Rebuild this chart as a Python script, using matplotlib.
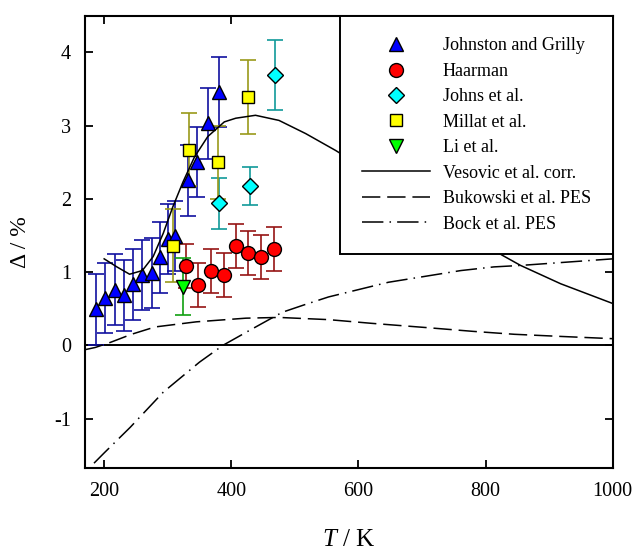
import matplotlib
matplotlib.use("Agg")
import matplotlib.pyplot as plt

plt.rcParams['font.family'] = ['Liberation Serif', 'DejaVu Serif']
plt.rcParams['mathtext.fontset'] = 'custom'
plt.rcParams['mathtext.rm'] = 'Liberation Serif'
plt.rcParams['mathtext.it'] = 'Liberation Serif:italic'
plt.rcParams['axes.unicode_minus'] = False

# experimental points: T / K, deviation / %, error bar half width / %
jg_T = [187, 202, 217, 231, 246, 260, 275, 288, 300, 311, 332, 346, 363, 380]
jg_D = [0.49, 0.65, 0.76, 0.68, 0.83, 0.96, 0.99, 1.20, 1.45, 1.49, 2.25, 2.50, 3.03, 3.46]
jg_err = [0.48] * 14

haar_T = [328, 348, 368, 388, 407, 427, 447, 467]
haar_D = [1.08, 0.82, 1.02, 0.96, 1.35, 1.26, 1.20, 1.31]
haar_err = [0.30] * 8

johns_T = [380, 429, 469]
johns_D = [1.94, 2.18, 3.69]
johns_err = [0.35, 0.26, 0.48]

millat_T = [308, 333, 379, 426]
millat_D = [1.36, 2.67, 2.50, 3.39]
millat_err = [0.50] * 4

li_T = [324]
li_D = [0.80]
li_err = [0.39]

# curves
ves_T = [200, 220, 240, 260, 277, 293, 308, 324, 342, 363, 389, 407, 438,
         475, 517, 564, 620, 680, 740, 800, 826, 855, 918, 1000]
ves_D = [1.18, 1.07, 0.97, 1.02, 1.21, 1.53, 1.89, 2.23, 2.57, 2.85, 3.05,
         3.10, 3.14, 3.07, 2.89, 2.66, 2.36, 2.03, 1.70, 1.37, 1.23, 1.09, 0.84, 0.57]

buk_T = [170, 186, 210, 243, 280, 345, 423, 475, 553, 620, 709, 780, 845, 920, 1000]
buk_D = [-0.06, -0.03, 0.04, 0.15, 0.25, 0.32, 0.37, 0.38, 0.35, 0.30, 0.24,
         0.19, 0.15, 0.12, 0.09]

bock_T = [184, 200, 241, 293, 350, 387, 428, 480, 514, 553, 647, 761, 813, 855, 1000]
bock_D = [-1.61, -1.47, -1.12, -0.64, -0.23, 0.0, 0.20, 0.45, 0.55, 0.66, 0.86,
          1.02, 1.07, 1.09, 1.18]

fig = plt.figure(figsize=(6.35, 5.52), dpi=100)
ax = fig.add_axes([0.134, 0.1516, 0.831, 0.82])

ax.axhline(0, color='k', lw=1.4, zorder=1)

eb = dict(fmt='none', capsize=5.5, elinewidth=1.2, capthick=1.2, zorder=2)
ax.errorbar(jg_T, jg_D, yerr=jg_err, ecolor='#1010a0', **eb)
ax.errorbar(haar_T, haar_D, yerr=haar_err, ecolor='#961414', **eb)
ax.errorbar(johns_T, johns_D, yerr=johns_err, ecolor='#109a9a', **eb)
ax.errorbar(millat_T, millat_D, yerr=millat_err, ecolor='#99991a', **eb)
ax.errorbar(li_T, li_D, yerr=li_err, ecolor='#10a010', **eb)

mk = dict(ls='none', mec='k', mew=1.0, zorder=3)
ax.plot(jg_T, jg_D, '^', ms=10, mfc='#0000ff', label='Johnston and Grilly', **mk)
ax.plot(haar_T, haar_D, 'o', ms=10, mfc='#ff0000', label='Haarman', **mk)
ax.plot(johns_T, johns_D, 'D', ms=8.5, mfc='#00ffff', label='Johns et al.', **mk)
ax.plot(millat_T, millat_D, 's', ms=8.5, mfc='#ffff00', label='Millat et al.', **mk)
ax.plot(li_T, li_D, 'v', ms=10, mfc='#00ff00', label='Li et al.', **mk)

ax.plot(ves_T, ves_D, color='k', lw=1.1, zorder=4, label='Vesovic et al. corr.')
ax.plot(buk_T, buk_D, color='k', lw=1.1, dashes=(12, 4.5), zorder=4,
        label='Bukowski et al. PES')
ax.plot(bock_T, bock_D, color='k', lw=1.1, dashes=(14, 4, 1, 4), zorder=4,
        label='Bock et al. PES')

ax.set_xlim(170, 1000)
ax.set_ylim(-1.68, 4.5)
ax.set_xticks([200, 400, 600, 800, 1000])
ax.set_yticks([-1, 0, 1, 2, 3, 4])
ax.tick_params(direction='in', length=6, width=1.3, labelsize=14.5,
               top=True, right=True, pad=10)
for s in ax.spines.values():
    s.set_linewidth(1.5)

ax.set_xlabel(r'$\it{T}$ / K', fontsize=18, labelpad=20)
ax.set_ylabel('Δ / %', fontsize=17, labelpad=17)

leg = ax.legend(loc='upper right', borderaxespad=0, fontsize=13, frameon=True,
                fancybox=False, edgecolor='k', framealpha=1, borderpad=1.2,
                handlelength=3.8, handletextpad=0.7, labelspacing=0.47)
leg.get_frame().set_linewidth(1.4)

fig.savefig('out.png', dpi=100)
